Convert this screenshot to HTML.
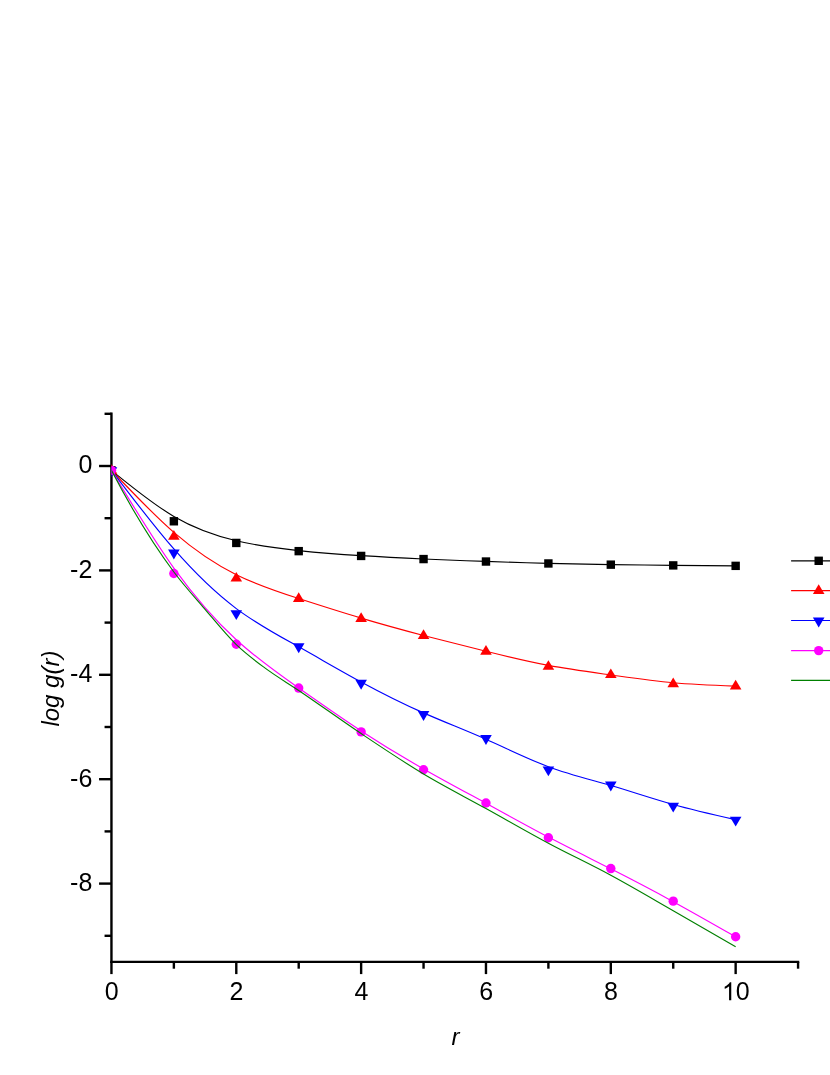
<!DOCTYPE html>
<html><head><meta charset="utf-8"><title>log g(r)</title>
<style>html,body{margin:0;padding:0;background:#fff;}body{width:830px;height:1075px;overflow:hidden;}svg{display:block;will-change:transform;}text{font-family:"Liberation Sans",sans-serif;font-size:25px;fill:#000;}</style></head><body>
<svg width="830" height="1075" viewBox="0 0 830 1075">
<rect width="830" height="1075" fill="#fff"/>
<defs><clipPath id="c"><rect x="111.45" y="413.80" width="688.62" height="548.10"/></clipPath></defs>
<g stroke="#000" stroke-width="2.40" fill="none" stroke-linecap="butt">
<path d="M111.45 412.60V963.10"/>
<path d="M110.25 961.90H799.27"/>
<path d="M111.45 413.80H104.55"/>
<path d="M111.45 466.00H99.05"/>
<path d="M111.45 518.20H104.55"/>
<path d="M111.45 570.40H99.05"/>
<path d="M111.45 622.60H104.55"/>
<path d="M111.45 674.80H99.05"/>
<path d="M111.45 727.00H104.55"/>
<path d="M111.45 779.20H99.05"/>
<path d="M111.45 831.40H104.55"/>
<path d="M111.45 883.60H99.05"/>
<path d="M111.45 935.80H104.55"/>
<path d="M111.45 961.90V974.10"/>
<path d="M173.87 961.90V968.70"/>
<path d="M236.29 961.90V974.10"/>
<path d="M298.71 961.90V968.70"/>
<path d="M361.13 961.90V974.10"/>
<path d="M423.55 961.90V968.70"/>
<path d="M485.97 961.90V974.10"/>
<path d="M548.39 961.90V968.70"/>
<path d="M610.81 961.90V974.10"/>
<path d="M673.23 961.90V968.70"/>
<path d="M735.65 961.90V974.10"/>
<path d="M798.07 961.90V968.70"/>
</g>
<text x="92.3" y="473.30" text-anchor="end">0</text>
<text x="92.3" y="577.70" text-anchor="end">-2</text>
<text x="92.3" y="682.10" text-anchor="end">-4</text>
<text x="92.3" y="786.50" text-anchor="end">-6</text>
<text x="92.3" y="890.90" text-anchor="end">-8</text>
<text x="111.65" y="1000.2" text-anchor="middle">0</text>
<text x="236.49" y="1000.2" text-anchor="middle">2</text>
<text x="361.33" y="1000.2" text-anchor="middle">4</text>
<text x="486.17" y="1000.2" text-anchor="middle">6</text>
<text x="611.01" y="1000.2" text-anchor="middle">8</text>
<path transform="translate(721.95 1000.2) scale(0.012207 -0.012207)" d="M763 0H583V1147Q518 1085 412.5 1023Q307 961 223 930V1104Q374 1175 487 1276Q600 1377 647 1472H763Z" fill="#000"/>
<text x="735.85" y="1000.2">0</text>
<text x="455.6" y="1044.8" text-anchor="middle" font-style="italic" style="font-size:24px">r</text>
<text transform="translate(58.5 688.6) rotate(-90)" text-anchor="middle" font-style="italic" style="font-size:24px">log g(r)</text>
<g clip-path="url(#c)">
<path d="M111.45 470.33 C132.26 487.32 153.06 504.30 173.87 516.40 C194.68 528.50 215.48 535.72 236.29 540.70 C257.10 545.67 277.90 548.41 298.71 550.57 C319.52 552.74 340.32 554.34 361.13 555.66 C381.94 556.98 402.74 558.03 423.55 558.96 C444.36 559.89 465.16 560.71 485.97 561.44 C506.78 562.17 527.58 562.81 548.39 563.34 C569.20 563.86 590.00 564.26 610.81 564.58 C631.62 564.90 652.42 565.15 673.23 565.35 C694.04 565.55 714.84 565.70 735.65 565.86" fill="none" stroke="#000000" stroke-width="1.15"/>
<rect x="107.25" y="466.13" width="8.40" height="8.40" fill="#000000"/>
<rect x="169.67" y="517.08" width="8.40" height="8.40" fill="#000000"/>
<rect x="232.09" y="538.74" width="8.40" height="8.40" fill="#000000"/>
<rect x="294.51" y="546.94" width="8.40" height="8.40" fill="#000000"/>
<rect x="356.93" y="551.74" width="8.40" height="8.40" fill="#000000"/>
<rect x="419.35" y="554.87" width="8.40" height="8.40" fill="#000000"/>
<rect x="481.77" y="557.33" width="8.40" height="8.40" fill="#000000"/>
<rect x="544.19" y="559.26" width="8.40" height="8.40" fill="#000000"/>
<rect x="606.61" y="560.46" width="8.40" height="8.40" fill="#000000"/>
<rect x="669.03" y="561.19" width="8.40" height="8.40" fill="#000000"/>
<rect x="731.45" y="561.66" width="8.40" height="8.40" fill="#000000"/>
<path d="M111.45 470.33 C132.26 492.34 153.06 514.35 173.87 532.35 C194.68 550.34 215.48 564.31 236.29 574.68 C257.10 585.05 277.90 591.82 298.71 598.54 C319.52 605.25 340.32 611.92 361.13 618.10 C381.94 624.29 402.74 630.00 423.55 635.46 C444.36 640.92 465.16 646.14 485.97 651.28 C506.78 656.43 527.58 661.49 548.39 665.40 C569.20 669.30 590.00 672.05 610.81 674.95 C631.62 677.84 652.42 680.89 673.23 682.77 C694.04 684.65 714.84 685.36 735.65 686.08" fill="none" stroke="#FF0000" stroke-width="1.15"/>
<path d="M111.45 463.93L117.25 473.63L105.65 473.63Z" fill="#FF0000"/>
<path d="M173.87 529.97L179.67 539.67L168.07 539.67Z" fill="#FF0000"/>
<path d="M236.29 571.88L242.09 581.58L230.49 581.58Z" fill="#FF0000"/>
<path d="M298.71 592.19L304.51 601.89L292.91 601.89Z" fill="#FF0000"/>
<path d="M361.13 612.18L366.93 621.88L355.33 621.88Z" fill="#FF0000"/>
<path d="M423.55 629.30L429.35 639.00L417.75 639.00Z" fill="#FF0000"/>
<path d="M485.97 644.96L491.77 654.66L480.17 654.66Z" fill="#FF0000"/>
<path d="M548.39 660.15L554.19 669.85L542.59 669.85Z" fill="#FF0000"/>
<path d="M610.81 668.40L616.61 678.10L605.01 678.10Z" fill="#FF0000"/>
<path d="M673.23 677.53L679.03 687.23L667.43 687.23Z" fill="#FF0000"/>
<path d="M735.65 679.68L741.45 689.38L729.85 689.38Z" fill="#FF0000"/>
<path d="M111.45 470.33 C132.26 497.75 153.06 525.18 173.87 548.99 C194.68 572.80 215.48 593.00 236.29 608.62 C257.10 624.24 277.90 635.27 298.71 646.86 C319.52 658.46 340.32 670.62 361.13 681.93 C381.94 693.23 402.74 703.67 423.55 712.87 C444.36 722.08 465.16 730.05 485.97 739.26 C506.78 748.47 527.58 758.93 548.39 766.68 C569.20 774.43 590.00 779.48 610.81 785.53 C631.62 791.59 652.42 798.65 673.23 804.52 C694.04 810.38 714.84 815.04 735.65 819.71" fill="none" stroke="#0000FF" stroke-width="1.15"/>
<path d="M111.45 477.23L117.25 467.33L105.65 467.33Z" fill="#0000FF"/>
<path d="M173.87 559.50L179.67 549.60L168.07 549.60Z" fill="#0000FF"/>
<path d="M236.29 620.10L242.09 610.20L230.49 610.20Z" fill="#0000FF"/>
<path d="M298.71 653.20L304.51 643.30L292.91 643.30Z" fill="#0000FF"/>
<path d="M361.13 689.69L366.93 679.79L355.33 679.79Z" fill="#0000FF"/>
<path d="M423.55 721.01L429.35 711.11L417.75 711.11Z" fill="#0000FF"/>
<path d="M485.97 744.91L491.77 735.01L480.17 735.01Z" fill="#0000FF"/>
<path d="M548.39 776.29L554.19 766.39L542.59 766.39Z" fill="#0000FF"/>
<path d="M610.81 791.42L616.61 781.52L605.01 781.52Z" fill="#0000FF"/>
<path d="M673.23 812.62L679.03 802.72L667.43 802.72Z" fill="#0000FF"/>
<path d="M735.65 826.61L741.45 816.71L729.85 816.71Z" fill="#0000FF"/>
<path d="M111.45 470.33 C132.26 504.71 153.06 539.10 173.87 568.08 C194.68 597.06 215.48 620.63 236.29 639.73 C257.10 658.83 277.90 673.44 298.71 688.06 C319.52 702.67 340.32 717.29 361.13 730.90 C381.94 744.50 402.74 757.10 423.55 768.95 C444.36 780.80 465.16 791.90 485.97 803.24 C506.78 814.57 527.58 826.15 548.39 837.07 C569.20 848.00 590.00 858.28 610.81 868.85 C631.62 879.42 652.42 890.28 673.23 901.65 C694.04 913.02 714.84 924.91 735.65 936.79" fill="none" stroke="#FF00FF" stroke-width="1.15"/>
<circle cx="111.45" cy="470.33" r="4.70" fill="#FF00FF"/>
<circle cx="173.87" cy="573.48" r="4.70" fill="#FF00FF"/>
<circle cx="236.29" cy="644.21" r="4.70" fill="#FF00FF"/>
<circle cx="298.71" cy="688.06" r="4.70" fill="#FF00FF"/>
<circle cx="361.13" cy="731.91" r="4.70" fill="#FF00FF"/>
<circle cx="423.55" cy="769.70" r="4.70" fill="#FF00FF"/>
<circle cx="485.97" cy="803.00" r="4.70" fill="#FF00FF"/>
<circle cx="548.39" cy="837.72" r="4.70" fill="#FF00FF"/>
<circle cx="610.81" cy="868.57" r="4.70" fill="#FF00FF"/>
<circle cx="673.23" cy="901.14" r="4.70" fill="#FF00FF"/>
<circle cx="735.65" cy="936.79" r="4.70" fill="#FF00FF"/>
<path d="M111.45 470.33 C132.26 510.24 153.06 544.12 173.87 571.97 C183.98 585.50 194.09 596.51 204.21 608.30 C214.90 620.77 225.60 634.31 236.29 644.63 C245.80 653.80 255.31 660.80 264.82 667.91 C276.11 676.35 287.41 682.84 298.71 690.46 C319.52 704.49 340.32 719.66 361.13 733.58 C381.94 747.50 402.74 761.49 423.55 773.98 C444.36 786.47 465.16 796.99 485.97 808.54 C506.78 820.08 527.58 832.12 548.39 843.25 C569.20 854.38 590.00 864.05 610.81 875.30 C631.62 886.55 652.42 898.82 673.23 910.74 C694.04 922.67 714.84 934.71 735.65 946.87" fill="none" stroke="#008000" stroke-width="1.15"/>
</g>
<path d="M791.10 560.80H846.30" stroke="#000000" stroke-width="1.15" fill="none"/>
<rect x="814.50" y="556.60" width="8.40" height="8.40" fill="#000000"/>
<path d="M791.10 590.60H846.30" stroke="#FF0000" stroke-width="1.15" fill="none"/>
<path d="M818.70 584.20L824.50 593.90L812.90 593.90Z" fill="#FF0000"/>
<path d="M791.10 620.50H846.30" stroke="#0000FF" stroke-width="1.15" fill="none"/>
<path d="M818.70 627.40L824.50 617.50L812.90 617.50Z" fill="#0000FF"/>
<path d="M791.10 650.60H846.30" stroke="#FF00FF" stroke-width="1.15" fill="none"/>
<circle cx="818.70" cy="650.60" r="4.70" fill="#FF00FF"/>
<path d="M791.10 680.40H846.30" stroke="#008000" stroke-width="1.15" fill="none"/>
</svg></body></html>
